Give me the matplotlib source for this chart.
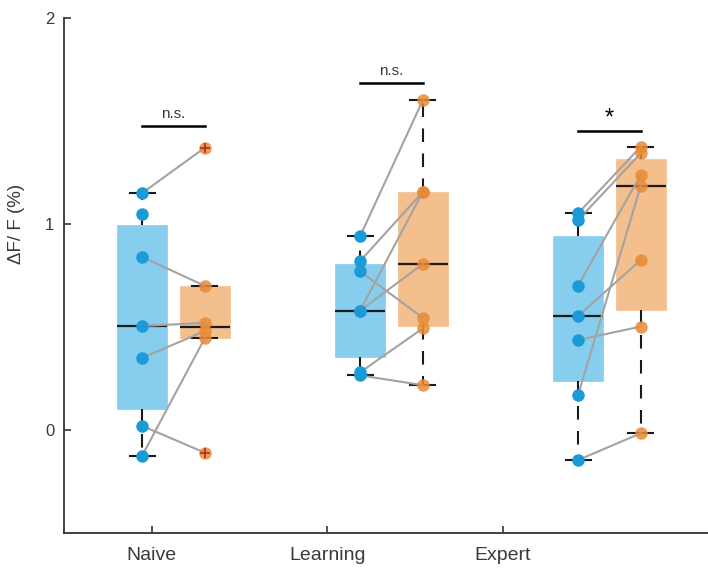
import numpy as np
import matplotlib.pyplot as plt

plt.rcParams['font.family'] = ['Liberation Sans', 'DejaVu Sans']

# paired dF/F values per session, blue = before, orange = after
stages = ['Naive', 'Learning', 'Expert']
naive_blue = [1.15, 1.05, 0.84, 0.505, 0.35, 0.02, -0.125]
naive_orange = [1.37, np.nan, 0.70, 0.52, 0.48, -0.11, 0.445]
learning_blue = [0.94, 0.82, 0.58, 0.58, 0.77, 0.28, 0.265]
learning_orange = [1.60, 1.155, 1.155, 0.805, 0.545, 0.493, 0.218]
expert_blue = [1.052, 1.019, 0.701, 0.553, 0.437, 0.170, -0.146]
expert_orange = [1.375, 1.343, 1.238, 0.825, 0.502, 1.184, -0.016]

blue_sets = [naive_blue, learning_blue, expert_blue]
orange_sets = [naive_orange, learning_orange, expert_orange]

# significance labels and bar heights
sig_text = ['n.s.', 'n.s.', '*']
sig_height = [1.477, 1.683, 1.453]

tick_pos = [1, 2, 3]
blue_pos = [0.945, 2.187, 3.429]
orange_pos = [p + 0.357 for p in blue_pos]
box_w = 0.285

c_blue_box = '#87CDEE'
c_blue_dot = '#1B9AD8'
c_orange_box = '#F3BF8D'
c_orange_dot = '#E98A36'
c_text = '#3a3a3a'


def box_stats(vals):
    v = np.asarray(vals, dtype=float)
    v = v[~np.isnan(v)]
    q1, med, q3 = np.percentile(v, [25, 50, 75], method='hazen')
    iqr = q3 - q1
    inside = v[(v >= q1 - 1.5 * iqr) & (v <= q3 + 1.5 * iqr)]
    fl = v[(v < q1 - 1.5 * iqr) | (v > q3 + 1.5 * iqr)]
    return dict(med=med, q1=q1, q3=q3, whislo=inside.min(), whishi=inside.max(), fliers=[]), fl


fig = plt.figure(figsize=(7.08, 5.68), dpi=100)
ax = fig.add_axes([64 / 708, 35 / 568, 1 - 64 / 708, 515 / 568])

fliers_all = []
for data, pos, face in [(blue_sets, blue_pos, c_blue_box), (orange_sets, orange_pos, c_orange_box)]:
    stats = []
    for vals, p in zip(data, pos):
        s, fl = box_stats(vals)
        stats.append(s)
        fliers_all.append((p, fl))
    ax.bxp(stats, positions=pos, widths=box_w, patch_artist=True, showfliers=False,
           capwidths=box_w / 2,
           boxprops=dict(facecolor=face, edgecolor=face, linewidth=0.5),
           whiskerprops=dict(color='#1a1a1a', linewidth=1.5, linestyle=(0, (6.5, 5.5))),
           capprops=dict(color='#1a1a1a', linewidth=1.5),
           medianprops=dict(color='#1a1a1a', linewidth=1.6),
           manage_ticks=False)

# connecting lines between paired measurements
for b, o, bp, op in zip(blue_sets, orange_sets, blue_pos, orange_pos):
    for yb, yo in zip(b, o):
        if np.isnan(yb) or np.isnan(yo):
            continue
        ax.plot([bp, op], [yb, yo], color='#a3a3a3', linewidth=1.5, zorder=3)

for b, bp in zip(blue_sets, blue_pos):
    ax.plot([bp] * len(b), b, 'o', color=c_blue_dot, markersize=9,
            markeredgewidth=0, zorder=4)
for o, op in zip(orange_sets, orange_pos):
    ax.plot([op] * len(o), o, 'o', color=c_orange_dot, markersize=9,
            markeredgewidth=0, alpha=0.85, zorder=4)

for p, fl in fliers_all:
    if len(fl):
        ax.plot([p] * len(fl), fl, '+', color='#a8302c', markersize=7,
                markeredgewidth=1.2, zorder=5)

# significance bars
for bp, op, h, t in zip(blue_pos, orange_pos, sig_height, sig_text):
    ax.plot([bp, op], [h, h], color='black', linewidth=1.8, zorder=5)
    if t == '*':
        ax.text((bp + op) / 2, h + 0.005, t, ha='center', va='bottom',
                fontsize=17, color='black')
    else:
        ax.text((bp + op) / 2, h + 0.025, t, ha='center', va='bottom',
                fontsize=11, color=c_text)

ax.set_xlim(0.5, 0.5 + 644 / 175.5)
ax.set_ylim(-0.5, 2)
ax.set_yticks([0, 1, 2])
ax.set_xticks(tick_pos)
ax.set_xticklabels(stages, fontsize=14, color=c_text)
ax.tick_params(axis='y', labelsize=12, labelcolor=c_text)
ax.tick_params(direction='in', length=5, width=1.2, color='#333333')
ax.tick_params(axis='x', pad=10)
ax.tick_params(axis='y', pad=7)
ax.set_ylabel('ΔF/ F (%)', fontsize=13.5, color=c_text)
ax.yaxis.set_label_coords(-0.06, 0.6)
for side in ['top', 'right']:
    ax.spines[side].set_visible(False)
for side in ['left', 'bottom']:
    ax.spines[side].set_color('#333333')
    ax.spines[side].set_linewidth(1.3)

fig.savefig('out.png', dpi=100)
